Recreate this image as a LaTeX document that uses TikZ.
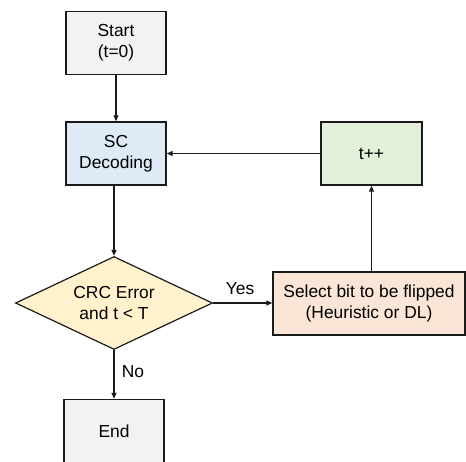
\documentclass[tikz,border=0pt]{standalone}
\usepackage{fontspec}
\setmainfont{Liberation Sans}
\usetikzlibrary{shapes.geometric,arrows.meta}
\definecolor{cgray}{HTML}{F2F2F2}
\definecolor{cblue}{HTML}{DEEBF7}
\definecolor{cgreen}{HTML}{E2F0D9}
\definecolor{cgold}{HTML}{FFF2CC}
\definecolor{corange}{HTML}{FBE5D6}
\definecolor{cline}{HTML}{1A1A1A}
\tikzset{
  box/.style={draw=cline, line width=1.4pt, rectangle, minimum width=100pt, minimum height=63pt, inner sep=0pt, align=center, font=\fontsize{17.4}{21}\selectfont},
  dec/.style={draw=cline, line width=1.2pt, diamond, aspect=2.12, minimum width=197pt, minimum height=93pt, inner sep=0pt, align=center, font=\fontsize{17.4}{21}\selectfont},
  conn/.style={draw=cline, line width=1.4pt, -{Triangle[length=6pt,width=5pt]}},
  lbl/.style={font=\fontsize{17.4}{21}\selectfont, inner sep=0pt}
}
\begin{document}
\begin{tikzpicture}[x=1pt,y=-1pt]
\useasboundingbox (0,0) rectangle (466,461);
\node[box, fill=cgray] (start) at (116,43) {Start\\(t=0)};
\node[box, fill=cblue] (sc) at (116,153.5) {SC\\Decoding};
\node[box, fill=cgreen, minimum width=101pt] (tpp) at (371.5,153.5) {t++};
\node[dec, fill=cgold] (dia) at (114,303) {CRC Error\\and t < T};
\node[box, fill=corange, minimum width=192pt] (sel) at (369,303.5) {Select bit to be flipped\\(Heuristic or DL)};
\node[box, fill=cgray] (end) at (114,431) {End};
\draw[conn] (start) -- (sc);
\draw[conn] (dia.north |- sc.south) -- (dia.north);
\draw[conn] (dia.east) -- (sel.west |- dia.east);
\node[lbl] (yes) at (240,289) {Yes};
\draw[conn] (dia.south) -- (end.north);
\node[lbl] (no) at (133,372) {No};
\draw[conn] (sel.north -| tpp.south) -- (tpp.south);
\draw[conn] (tpp.west) -- (sc.east);
\end{tikzpicture}
\end{document}
